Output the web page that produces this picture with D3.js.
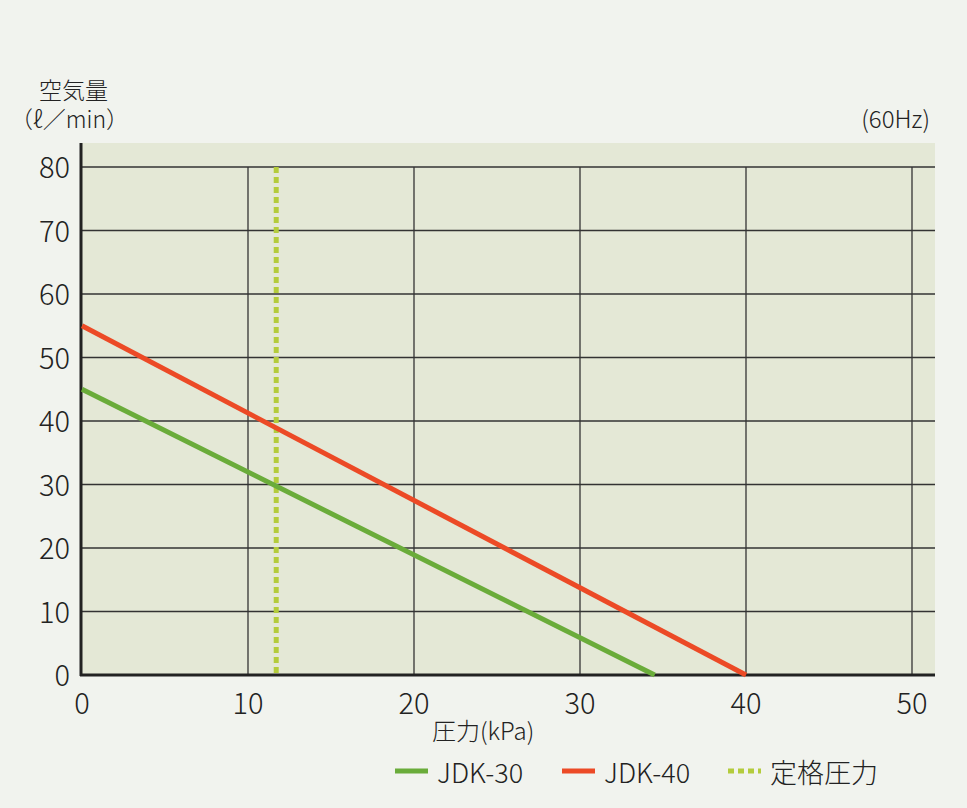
<!DOCTYPE html>
<html>
<head>
<meta charset="utf-8">
<style>
  body { margin: 0; background: #f1f3ee; }
  text { font-family: "Noto Sans CJK JP", "Noto Sans", sans-serif; font-weight: 300; fill: #222; }
</style>
</head>
<body>
<script src="https://d3js.org/d3.v7.min.js"></script>
<script>
// data
const xTicks = [0, 10, 20, 30, 40, 50];
const yTicks = [0, 10, 20, 30, 40, 50, 60, 70, 80];
const jdk30 = [[0, 45], [34.5, 0]];
const jdk40 = [[0, 55], [40, 0]];
const ratedPressure = 11.7;

const width = 967, height = 808;
const svg = d3.select("body").append("svg").attr("width", width).attr("height", height);

const x = d3.scaleLinear().domain([0, 50]).range([82, 912]);
const y = d3.scaleLinear().domain([0, 80]).range([675, 167]);

// plot background
svg.append("rect").attr("x", 82).attr("y", 143).attr("width", 853).attr("height", 532)
    .attr("fill", "#e4e8d6");

// grid
svg.selectAll(".vg").data(xTicks.slice(1)).enter().append("line")
    .attr("x1", d => x(d)).attr("x2", d => x(d)).attr("y1", y(80)).attr("y2", y(0))
    .attr("stroke", "#333").attr("stroke-width", 1.3);
svg.selectAll(".hg").data(yTicks.slice(1)).enter().append("line")
    .attr("x1", x(0)).attr("x2", 935).attr("y1", d => y(d)).attr("y2", d => y(d))
    .attr("stroke", "#333").attr("stroke-width", 1.3);

// axes lines
svg.append("line").attr("x1", 81).attr("x2", 81).attr("y1", 143).attr("y2", 676)
    .attr("stroke", "#222").attr("stroke-width", 3);
svg.append("line").attr("x1", 80).attr("x2", 935).attr("y1", 675).attr("y2", 675)
    .attr("stroke", "#222").attr("stroke-width", 3);

// tick labels
svg.selectAll(".xt").data(xTicks).enter().append("text")
    .attr("x", d => x(d)).attr("y", 714).attr("text-anchor", "middle")
    .attr("font-size", 29).text(d => d);
svg.selectAll(".yt").data(yTicks).enter().append("text")
    .attr("x", 70).attr("y", d => y(d) + 11).attr("text-anchor", "end")
    .attr("font-size", 29).text(d => d);

// rated pressure
svg.append("line").attr("x1", x(ratedPressure)).attr("x2", x(ratedPressure))
    .attr("y1", y(80)).attr("y2", y(0))
    .attr("stroke", "#b4cc3c").attr("stroke-width", 5).attr("stroke-dasharray", "6,4");

const line = d3.line().x(d => x(d[0])).y(d => y(d[1]));
svg.append("path").datum(jdk30).attr("d", line).attr("fill", "none")
    .attr("stroke", "#6aac3a").attr("stroke-width", 5);
svg.append("path").datum(jdk40).attr("d", line).attr("fill", "none")
    .attr("stroke", "#ec4a26").attr("stroke-width", 5);

// titles
svg.append("text").attr("x", 39).attr("y", 99).attr("font-size", 23).text("空気量");
svg.append("text").attr("x", 10).attr("y", 128).attr("font-size", 23).text("（ℓ／min）");
svg.append("text").attr("x", 930).attr("y", 128).attr("text-anchor", "end")
    .attr("font-size", 24).text("(60Hz)");
svg.append("text").attr("x", 432).attr("y", 740).attr("font-size", 24).text("圧力(kPa)");

// legend
const legend = [
  { label: "JDK-30", color: "#6aac3a", dash: null, x: 395 },
  { label: "JDK-40", color: "#ec4a26", dash: null, x: 562 },
  { label: "定格圧力", color: "#b4cc3c", dash: "6,4", x: 728 }
];
const lg = svg.selectAll(".lg").data(legend).enter().append("g");
lg.append("line").attr("x1", d => d.x).attr("x2", d => d.x + 33)
    .attr("y1", 771).attr("y2", 771).attr("stroke", d => d.color).attr("stroke-width", 5)
    .attr("stroke-dasharray", d => d.dash);
lg.append("text").attr("x", d => d.x + 42).attr("y", 783).attr("font-size", 27)
    .text(d => d.label);
</script>
</body>
</html>
